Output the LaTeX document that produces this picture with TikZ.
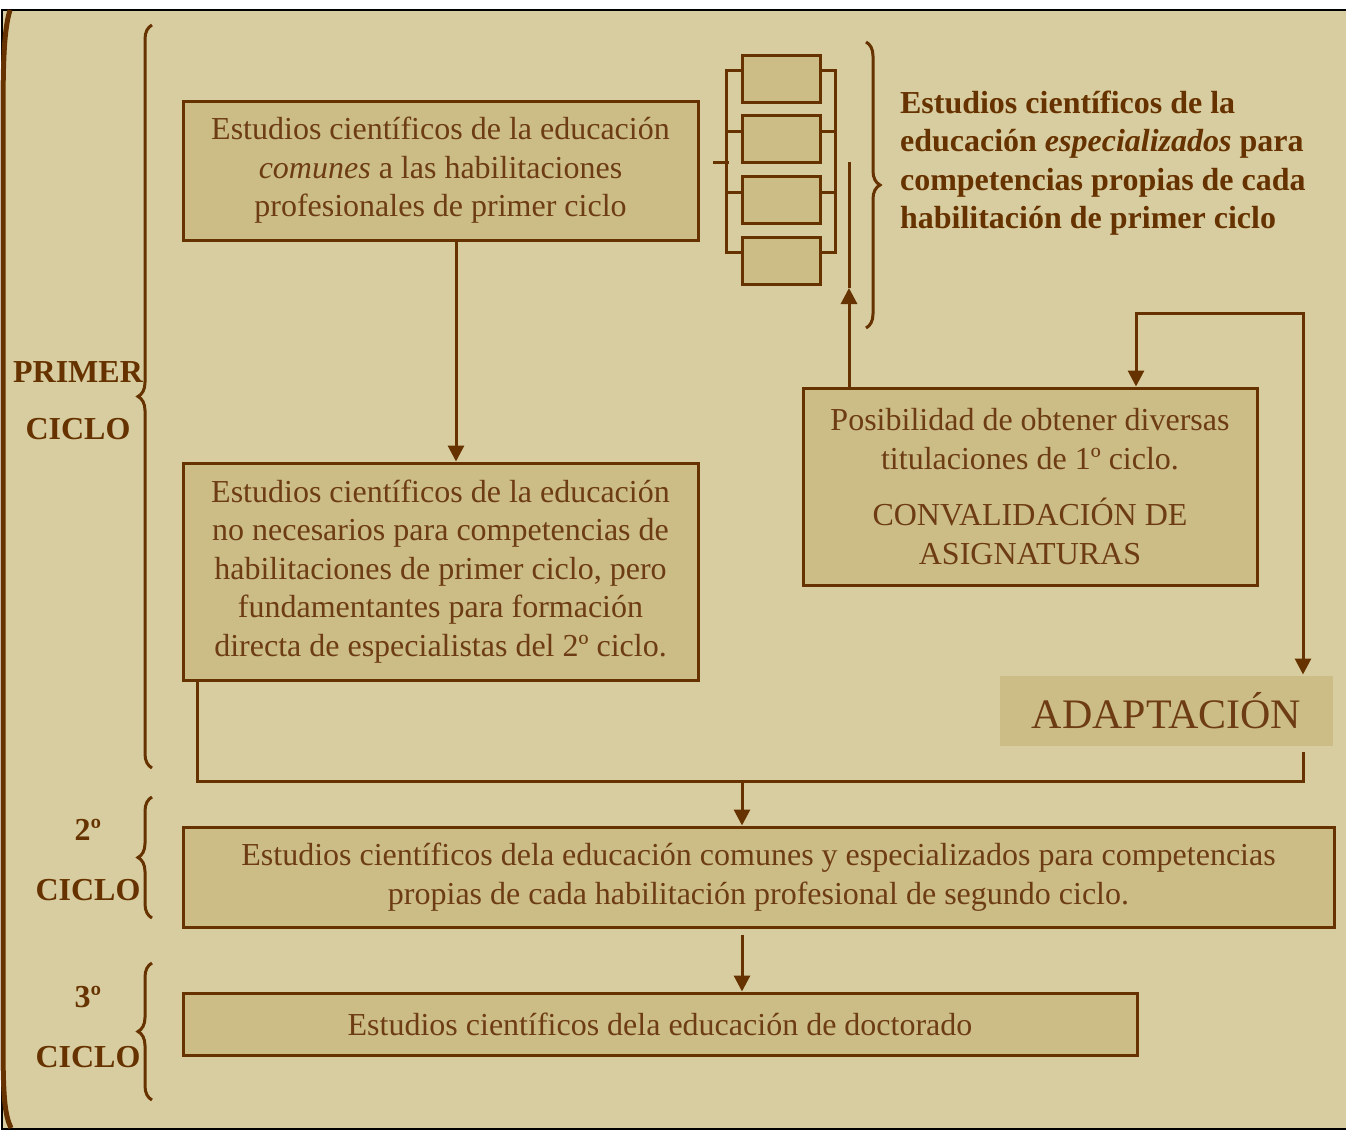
\documentclass[tikz,border=0pt]{standalone}
\usepackage{fontspec}
\setmainfont{Liberation Serif}
\usepackage{tikz}
\usetikzlibrary{positioning,arrows.meta,decorations.pathreplacing}
\definecolor{fondo}{HTML}{D8CDA0}
\definecolor{relleno}{HTML}{CBBD85}
\definecolor{marron}{HTML}{663300}
\definecolor{tinta}{HTML}{6E3C14}
\tikzset{
    >={Triangle[length=8pt,width=8pt]},
    caja/.style={
        rectangle,
        fill=relleno,
        draw=marron, line width=1.5pt,
        text=tinta,
        align=center,
        inner sep=0pt
    },
    cajita/.style={
        rectangle,
        fill=relleno,
        draw=marron, line width=1.5pt,
        minimum width=39pt,
        minimum height=23.5pt
    },
    linea/.style={draw=marron, line width=1.5pt},
    flecha/.style={linea, ->},
    decoration={brace, amplitude=7pt},
    llave/.style={decorate, draw=marron, line width=1.5pt},
    rotulo/.style={text=marron, font={\fontsize{16pt}{19.2pt}\selectfont\bfseries}, align=center},
    font={\fontsize{16pt}{19.2pt}\selectfont},
}
\begin{document}
\begin{tikzpicture}
[
    x=0.5pt, y=-0.5pt,
    primero/.style={caja, minimum width=257.5pt},
]
\useasboundingbox (0,0) rectangle (1346,1131);
\fill[fondo] (2,10) rectangle (1350,1129);
\draw[black, line width=0.8pt] (1350,10) -- (2,10) -- (2,1129) -- (1350,1129);
\draw[marron, line width=2.5pt] (10,10) .. controls (4,30) and (3,60) .. (3,120) -- (3,1040) .. controls (3,1100) and (5,1115) .. (11,1128);

% primer ciclo
\node[primero, minimum height=69.5pt] (comunes) at (440.5,170.5)
    {Estudios científicos de la educación\\ \textit{comunes} a las habilitaciones\\ profesionales de primer ciclo};
\node[primero, minimum height=108.5pt] (fundamento) at (440.5,571.5)
    {Estudios científicos de la educación\\ no necesarios para competencias de\\ habilitaciones de primer ciclo, pero\\ fundamentantes para formación\\ directa de especialistas del 2º ciclo.};
\node[caja, minimum width=227pt, minimum height=98.5pt] (titulos) at (1030,486.5)
    {Posibilidad de obtener diversas\\ titulaciones de 1º ciclo.\\[9pt] CONVALIDACIÓN DE\\ ASIGNATURAS};
\node[caja, draw=none, font={\fontsize{21pt}{25pt}\selectfont}, minimum width=166.5pt, minimum height=35pt] (adapt) at (1166.5,711) {ADAPTACIÓN};

\node[cajita] (s1) at (781,78.5) {};
\node[cajita] (s2) at (781,139) {};
\node[cajita] (s3) at (781,200) {};
\node[cajita] (s4) at (781,260.5) {};
\node[rotulo, align=left, anchor=west] (especial) at (893,163)
    {Estudios científicos de la\\ educación \textit{especializados} para\\ competencias propias de cada\\ habilitación de primer ciclo};

% segundo y tercer ciclo
\node[caja, minimum width=575.5pt, minimum height=50pt] (segundo) at (758.5,877)
    {Estudios científicos dela educación comunes y especializados para competencias\\ propias de cada habilitación profesional de segundo ciclo.};
\node[caja, minimum width=477pt, minimum height=31pt] (doctorado) at (660,1024)
    {Estudios científicos dela educación de doctorado};

\node[rotulo] (c1) at (78,401) {PRIMER\\[9.3pt]CICLO};
\node[rotulo] (c2) at (88,860) {2º\\[10.8pt]CICLO};
\node[rotulo] (c3) at (88,1027) {3º\\[10.8pt]CICLO};
\draw[llave] (152,768) -- (152,25);
\draw[llave] (152,918) -- (152,797);
\draw[llave] (152,1100) -- (152,963);
\draw[llave] (866,42) -- (866,328);

\coordinate (entrada) at (713,162);
\coordinate (subida) at (849,288);
\coordinate (tope) at (849,162);
\coordinate (vueltaL) at (1136,313);
\coordinate (vueltaR) at (1303,313);
\coordinate (union) at (742,781);
\coordinate (retorno) at (1303,781);

\draw[linea] ([yshift=4pt]s1.west) -- ++(-7pt,0) |- ([yshift=4pt]s4.west);
\draw[linea] ([yshift=4pt]s2.west) -- ++(-7pt,0);
\draw[linea] ([yshift=4pt]s3.west) -- ++(-7pt,0);
\draw[linea] ([yshift=4pt]s1.east) -- ++(7pt,0) |- ([yshift=4pt]s4.east);
\draw[linea] ([yshift=4pt]s2.east) -- ++(7pt,0);
\draw[linea] ([yshift=4pt]s3.east) -- ++(7pt,0);
\draw[linea] (entrada) -- ++(8pt,0);

\draw[flecha] ([xshift=7.75pt]comunes.south) -- ([xshift=7.75pt]fundamento.north);
\draw[flecha] (titulos.north -| subida) -- (subida);
\draw[linea] (subida) -- (tope);
\draw[linea, <->] (titulos.north -| vueltaL) -- (vueltaL) -- (vueltaR) -- (adapt.north -| vueltaR);
\draw[linea] ([xshift=8pt]fundamento.south west) |- (retorno) -- ([yshift=-2pt]adapt.south -| retorno);
\draw[flecha] (union) -- (segundo.north -| union);
\draw[flecha] ([yshift=-3pt]segundo.south -| union) -- (doctorado.north -| union);
\end{tikzpicture}
\end{document}
